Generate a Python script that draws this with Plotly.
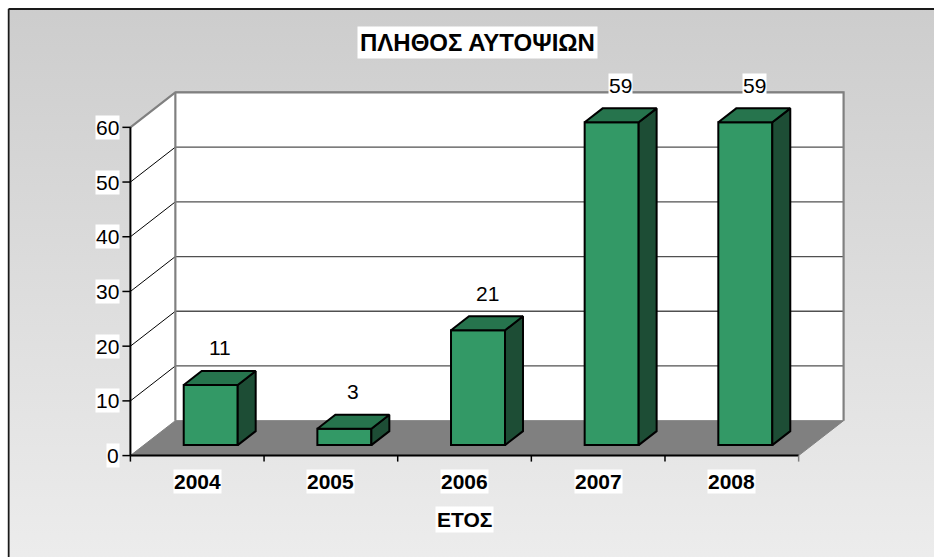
import base64
import plotly.graph_objects as go

# ---- data ----
years = ["2004", "2005", "2006", "2007", "2008"]
counts = [11, 3, 21, 59, 59]
y_ticks = [0, 10, 20, 30, 40, 50, 60]
title_text = "ΠΛΗΘΟΣ ΑΥΤΟΨΙΩΝ"
x_title = "ΕΤΟΣ"

# ---- style / geometry ----
W, H = 934, 557
PX_X0, PX_PER_X = 130.0, 133.8      # pixel of x=0, pixels per category
PX_Y0, PX_PER_Y = 456.0, 5.483      # pixel of y=0, pixels per unit
DX = 45.0 / PX_PER_X                # depth offset (x units)
DY = 35.0 / PX_PER_Y                # depth offset (y units)
BAR_W = 0.404
F_DEPTH, B_DEPTH = 0.3, 0.7
YMAXV = max(y_ticks)
N = len(years)

XMIN, XMAX = -0.25, N + DX + 0.25
YMIN, YMAX = -3.0, YMAXV + DY + 3.0
L = PX_X0 + XMIN * PX_PER_X
PW = (XMAX - XMIN) * PX_PER_X
T = PX_Y0 - YMAX * PX_PER_Y
PH = (YMAX - YMIN) * PX_PER_Y
R = W - L - PW
B = H - T - PH


def paper_x(px):
    return (px - L) / PW


def paper_y(py):
    return (T + PH - py) / PH


FONT = "Arial, Liberation Sans, sans-serif"
FRONT = "#339966"
TOP = "#26744d"
SIDE = "#1d4d35"
GRAY = "#808080"

fig = go.Figure()

# bar side and top faces, from data
sx, sy, tx, ty = [], [], [], []
for i, v in enumerate(counts):
    xl = i + 0.5 - BAR_W / 2 + F_DEPTH * DX
    xr = xl + BAR_W
    ddx = (B_DEPTH - F_DEPTH) * DX
    y0f = F_DEPTH * DY
    y0b = B_DEPTH * DY
    sx += [xr, xr, xr + ddx, xr + ddx, xr, None]
    sy += [y0f, v + y0f, v + y0b, y0b, y0f, None]
    tx += [xl, xr, xr + ddx, xl + ddx, xl, None]
    ty += [v + y0f, v + y0f, v + y0b, v + y0b, v + y0f, None]

fig.add_trace(go.Scatter(x=sx, y=sy, mode="lines", fill="toself", fillcolor=SIDE,
                         line=dict(color="black", width=2), hoverinfo="skip", showlegend=False))
fig.add_trace(go.Scatter(x=tx, y=ty, mode="lines", fill="toself", fillcolor=TOP,
                         line=dict(color="black", width=2), hoverinfo="skip", showlegend=False))
fig.add_trace(go.Bar(
    x=[i + 0.5 + F_DEPTH * DX for i in range(N)],
    y=counts,
    base=F_DEPTH * DY,
    width=BAR_W,
    marker=dict(color=FRONT, line=dict(color="black", width=2)),
    hovertext=years, showlegend=False,
))

shapes = []
# outer panel border (only top and left edges are visible)
shapes.append(dict(type="line", xref="paper", yref="paper",
                   x0=paper_x(8), x1=paper_x(W + 5), y0=paper_y(8.5), y1=paper_y(8.5),
                   line=dict(color="#1a1a1a", width=2), layer="below"))
shapes.append(dict(type="line", xref="paper", yref="paper",
                   x0=paper_x(8), x1=paper_x(8), y0=paper_y(8.5), y1=paper_y(H + 5),
                   line=dict(color="#1a1a1a", width=2), layer="below"))
# back wall
shapes.append(dict(type="rect", xref="x", yref="y", x0=DX, x1=N + DX, y0=DY, y1=YMAXV + DY,
                   fillcolor="white", line=dict(width=0), layer="below"))
# left wall
shapes.append(dict(type="path", xref="x", yref="y",
                   path=f"M 0 0 L 0 {YMAXV} L {DX} {YMAXV + DY} L {DX} {DY} Z",
                   fillcolor="white", line=dict(width=0), layer="below"))
# floor
shapes.append(dict(type="path", xref="x", yref="y",
                   path=f"M 0 0 L {N} 0 L {N + DX} {DY} L {DX} {DY} Z",
                   fillcolor=GRAY, line=dict(color=GRAY, width=1), layer="below"))
# gridlines
for v in y_ticks[1:]:
    shapes.append(dict(type="line", xref="x", yref="y", x0=DX, x1=N + DX, y0=v + DY, y1=v + DY,
                       line=dict(color="#505050", width=1.3), layer="below"))
    if v != YMAXV:
        shapes.append(dict(type="line", xref="x", yref="y", x0=0, x1=DX, y0=v, y1=v + DY,
                           line=dict(color="black", width=1), layer="below"))
# wall borders
shapes.append(dict(type="path", xref="x", yref="y",
                   path=f"M 0 {YMAXV} L {DX} {YMAXV + DY} L {N + DX} {YMAXV + DY} L {N + DX} {DY}",
                   fillcolor="rgba(0,0,0,0)", line=dict(color=GRAY, width=2.2), layer="below"))
shapes.append(dict(type="line", xref="x", yref="y", x0=DX, x1=DX, y0=DY, y1=YMAXV + DY,
                   line=dict(color=GRAY, width=2.2), layer="below"))
# axes lines
shapes.append(dict(type="line", xref="x", yref="y", x0=0, x1=0, y0=0, y1=YMAXV,
                   line=dict(color="black", width=2), layer="below"))
shapes.append(dict(type="line", xref="x", yref="y", x0=0, x1=N, y0=0, y1=0,
                   line=dict(color="black", width=2), layer="below"))
# y ticks
for v in y_ticks:
    shapes.append(dict(type="line", xref="x", yref="y", xsizemode="pixel", xanchor=0,
                       x0=-8, x1=0, y0=v, y1=v, line=dict(color="black", width=1.5)))
# x ticks
for i in range(N + 1):
    shapes.append(dict(type="line", xref="x", yref="y", ysizemode="pixel", yanchor=0,
                       x0=i, x1=i, y0=-6, y1=0,
                       line=dict(color=GRAY if i == N else "black", width=1.5)))

annotations = []
for v in y_ticks:
    annotations.append(dict(x=0, y=v, xref="x", yref="y", text=str(v), showarrow=False,
                            xanchor="right", yanchor="middle", xshift=-10,
                            font=dict(family=FONT, size=21, color="black"),
                            bgcolor="white", borderpad=0))
for i, yr in enumerate(years):
    annotations.append(dict(x=i + 0.5, y=0, xref="x", yref="y", text=f"<b>{yr}</b>",
                            showarrow=False, xanchor="center", yanchor="middle", yshift=-26,
                            font=dict(family=FONT, size=21, color="black"),
                            bgcolor="white", borderpad=0))
for i, v in enumerate(counts):
    annotations.append(dict(x=i + 0.5 + 0.5 * DX, y=v + 0.5 * DY, xref="x", yref="y",
                            text=str(v), showarrow=False, xanchor="center", yanchor="middle",
                            yshift=30, font=dict(family=FONT, size=21, color="black"),
                            bgcolor="white", borderpad=0))
annotations.append(dict(x=paper_x(477), y=paper_y(41.5), xref="paper", yref="paper",
                        text=f"<b>{title_text}</b>", showarrow=False,
                        xanchor="center", yanchor="middle",
                        font=dict(family=FONT, size=24, color="black"),
                        bgcolor="white", borderpad=2))
annotations.append(dict(x=paper_x(464), y=paper_y(520), xref="paper", yref="paper",
                        text=f"<b>{x_title}</b>", showarrow=False,
                        xanchor="center", yanchor="middle",
                        font=dict(family=FONT, size=21, color="black"),
                        bgcolor="white", borderpad=1))

svg = ('<svg xmlns="http://www.w3.org/2000/svg" width="10" height="100" viewBox="0 0 10 100" '
       'preserveAspectRatio="none"><defs><linearGradient id="g" x1="0" y1="0" x2="0" y2="1">'
       '<stop offset="0" stop-color="#cbcbcb"/><stop offset="1" stop-color="#f0f0f0"/>'
       '</linearGradient></defs><rect x="-5" y="-5" width="20" height="110" fill="url(#g)"/></svg>')
src = "data:image/svg+xml;base64," + base64.b64encode(svg.encode()).decode()

fig.update_layout(
    width=W, height=H, autosize=False,
    margin=dict(l=L, r=R, t=T, b=B, pad=0),
    paper_bgcolor="#f0f0f0", plot_bgcolor="rgba(0,0,0,0)",
    xaxis=dict(range=[XMIN, XMAX], visible=False, fixedrange=True),
    yaxis=dict(range=[YMIN, YMAX], visible=False, fixedrange=True),
    shapes=shapes, annotations=annotations,
    images=[dict(source=src, xref="paper", yref="paper",
                 x=paper_x(8), y=paper_y(8), sizex=(W + 30) / PW, sizey=(H + 30) / PH,
                 xanchor="left", yanchor="top", sizing="stretch", layer="below")],
    showlegend=False,
)
# white strip outside the panel border (top and left)
fig.add_shape(type="rect", xref="paper", yref="paper",
              x0=paper_x(-5), x1=paper_x(W + 5), y0=paper_y(-5), y1=paper_y(7.5),
              fillcolor="white", line=dict(width=0), layer="below")
fig.add_shape(type="rect", xref="paper", yref="paper",
              x0=paper_x(-5), x1=paper_x(7), y0=paper_y(-5), y1=paper_y(H + 5),
              fillcolor="white", line=dict(width=0), layer="below")

fig.write_html(
    "out.html",
    config={"displayModeBar": False},
    post_script="document.body.style.margin='0';document.body.style.overflow='hidden';",
)
